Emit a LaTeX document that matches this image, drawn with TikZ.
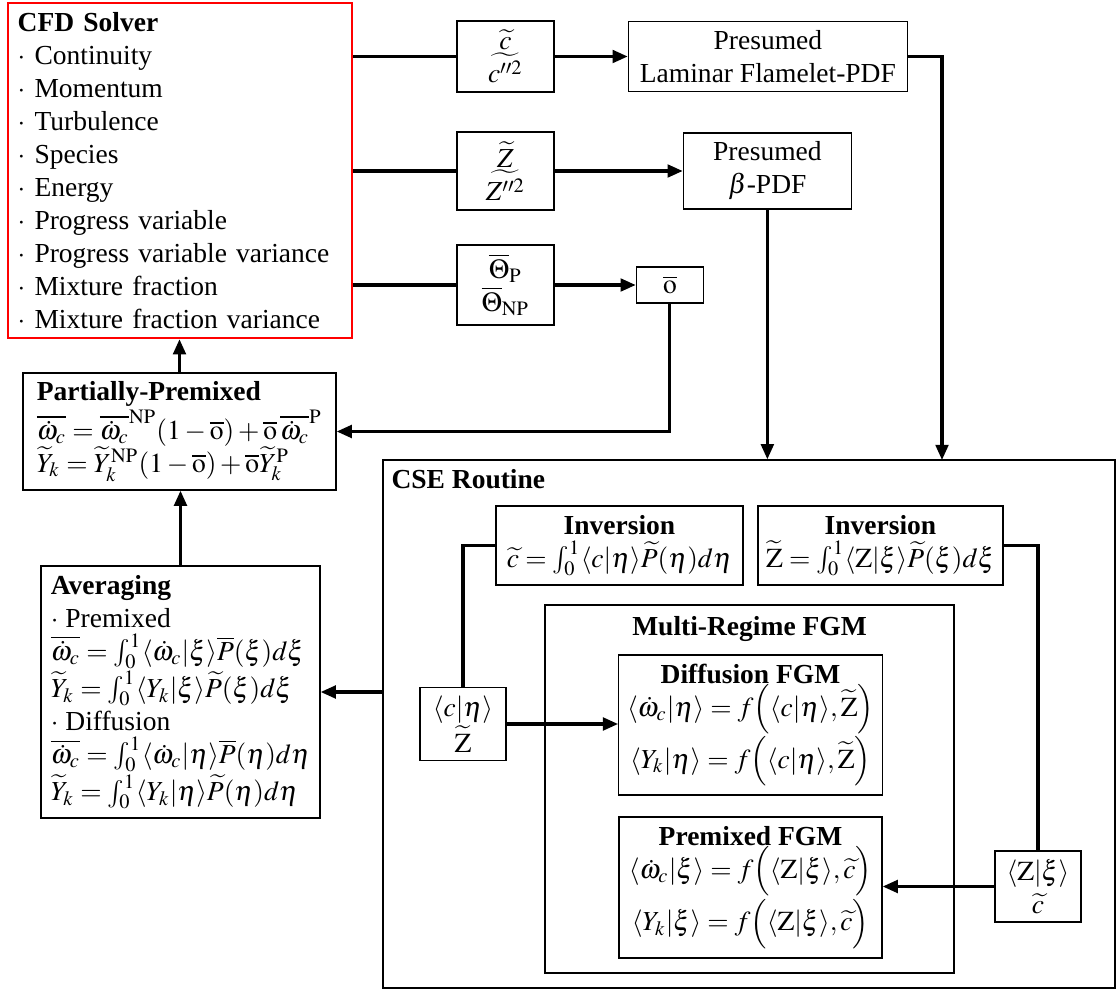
\documentclass[tikz,border=0pt]{standalone}
\usepackage{mathptmx}
\usepackage{fontspec}
\setmainfont{Liberation Serif}
\usetikzlibrary{positioning,arrows.meta}

\newcommand{\pxl}[1]{#1*0.3636pt}

\begin{document}
\begin{tikzpicture}[x=0.3636pt, y=-0.3636pt,
    box/.style={rectangle, draw, line width=0.5pt, inner sep=3pt, align=center},
    solver/.style={rectangle, draw=red, line width=0.9pt, inner xsep=3.5pt, align=left},
    leftbox/.style={box, align=left, inner xsep=3.5pt},
    title/.style={font=\bfseries, inner sep=0pt},
    wire/.style={line width=1.1pt},
    arrow/.style={wire, -{Triangle[length=5.5pt, width=4.6pt]}},
]
\useasboundingbox (0,0) rectangle (1118,990);

% ---- CFD solver and its three outputs ----
\node[solver, minimum height=\pxl{335}, text width=118pt] (cfd) at (180,170.5) {\textbf{CFD Solver}\\
  $\cdot$\ Continuity\\ $\cdot$\ Momentum\\ $\cdot$\ Turbulence\\ $\cdot$\ Species\\ $\cdot$\ Energy\\
  $\cdot$\ Progress variable\\ $\cdot$\ Progress variable variance\\ $\cdot$\ Mixture fraction\\
  $\cdot$\ Mixture fraction variance};

\node[box, minimum width=\pxl{97}, minimum height=\pxl{71}] (cvar) at (505.5,56.5) {$\widetilde{c}$\\ $\widetilde{c^{\prime\prime 2}}$};
\node[box, minimum width=\pxl{279}, minimum height=\pxl{70}, right=\pxl{73} of cvar] (lfpdf) {Presumed\\ Laminar Flamelet-PDF};

\node[box, minimum width=\pxl{97}, minimum height=\pxl{78}] (zvar) at (505.5,171) {$\widetilde{Z}$\\ $\widetilde{Z^{\prime\prime 2}}$};
\node[box, minimum width=\pxl{168}, minimum height=\pxl{76}, right=\pxl{128} of zvar] (bpdf) {Presumed\\ $\beta$-PDF};

\node[box, minimum width=\pxl{97}, minimum height=\pxl{80}] (thvar) at (505.5,285) {$\overline{\Theta}_{\mathrm{P}}$\\ $\overline{\Theta}_{\mathrm{NP}}$};
\node[box, minimum width=\pxl{67}, minimum height=\pxl{36}, right=\pxl{81} of thvar] (obar) {$\overline{\mathrm{o}}$};

% ---- weighting and averaging ----
\node[leftbox, minimum width=\pxl{313}, minimum height=\pxl{117}] (pp) at (179.5,431.5) {\textbf{Partially-Premixed}\\
  $\overline{\dot{\omega}_c} = \overline{\dot{\omega}_c}^{\mathrm{NP}}(1-\overline{\mathrm{o}}) + \overline{\mathrm{o}}\,\overline{\dot{\omega}_c}^{\mathrm{P}}$\\
  $\widetilde{Y}_k = \widetilde{Y}_k^{\mathrm{NP}}(1-\overline{\mathrm{o}}) + \overline{\mathrm{o}}\widetilde{Y}_k^{\mathrm{P}}$};

\node[leftbox, minimum width=\pxl{279}, minimum height=\pxl{252}] (avg) at (180.5,692) {\textbf{Averaging}\\
  $\cdot$\ Premixed\\
  $\overline{\dot{\omega}_c} = \int_0^1 \langle\dot{\omega}_c|\xi\rangle\overline{P}(\xi)d\xi$\\
  $\widetilde{Y}_k = \int_0^1 \langle Y_k|\xi\rangle\widetilde{P}(\xi)d\xi$\\
  $\cdot$\ Diffusion\\
  $\overline{\dot{\omega}_c} = \int_0^1 \langle\dot{\omega}_c|\eta\rangle\overline{P}(\eta)d\eta$\\
  $\widetilde{Y}_k = \int_0^1 \langle Y_k|\eta\rangle\widetilde{P}(\eta)d\eta$};

% ---- CSE routine ----
\node[box, minimum width=\pxl{732}, minimum height=\pxl{528}] (cse) at (749,724) {};
\node[title, anchor=base west] (csetitle) at (391,488) {CSE Routine};

\node[box, minimum width=\pxl{247}, minimum height=\pxl{79}] (invc) at (619.5,545.5) {\textbf{Inversion}\\
  $\widetilde{c} = \int_0^1 \langle c|\eta\rangle\widetilde{P}(\eta)d\eta$};
\node[box, minimum width=\pxl{245}, minimum height=\pxl{79}] (invz) at (880.5,545.5) {\textbf{Inversion}\\
  $\widetilde{\mathrm{Z}} = \int_0^1 \langle \mathrm{Z}|\xi\rangle\widetilde{P}(\xi)d\xi$};

\node[box, minimum width=\pxl{409}, minimum height=\pxl{368}] (mrfgm) at (749.5,789) {};
\node[title, anchor=base] (mrtitle) at (749.5,635) {Multi-Regime FGM};

\node[box, minimum width=\pxl{263}, minimum height=\pxl{140}] (dfgm) at (750.5,725) {\textbf{Diffusion FGM}\\
  $\langle\dot{\omega}_c|\eta\rangle = f\Big(\langle c|\eta\rangle,\widetilde{\mathrm{Z}}\Big)$\\
  $\langle Y_k|\eta\rangle = f\Big(\langle c|\eta\rangle,\widetilde{\mathrm{Z}}\Big)$};
\node[box, minimum width=\pxl{263}, minimum height=\pxl{141}] (pfgm) at (750.5,887.5) {\textbf{Premixed FGM}\\
  $\langle\dot{\omega}_c|\xi\rangle = f\Big(\langle \mathrm{Z}|\xi\rangle,\widetilde{c}\Big)$\\
  $\langle Y_k|\xi\rangle = f\Big(\langle \mathrm{Z}|\xi\rangle,\widetilde{c}\Big)$};

\node[box, minimum width=\pxl{86}, minimum height=\pxl{72}] (ceta) at (463,724) {$\langle c|\eta\rangle$\\ $\widetilde{\mathrm{Z}}$};
\node[box, minimum width=\pxl{86}, minimum height=\pxl{71}] (zxi) at (1038,886.5) {$\langle \mathrm{Z}|\xi\rangle$\\ $\widetilde{c}$};

% ---- connectors ----
\coordinate (lfin) at (942,460);
\draw[wire] (cfd.east |- cvar.west) -- (cvar.west);
\draw[arrow] (cvar.east) -- (lfpdf.west);
\draw[arrow] (lfpdf.east) -| (lfin);
\draw[wire] (cfd.east |- zvar.west) -- (zvar.west);
\draw[arrow] (zvar.east) -- (bpdf.west);
\draw[arrow] (bpdf.south) -- (bpdf.south |- cse.north);
\draw[wire] (cfd.east |- thvar.west) -- (thvar.west);
\draw[arrow] (thvar.east) -- (thvar.east -| obar.west);
\draw[arrow] (obar.south) |- (pp.east);
\draw[arrow] (pp.north) -- (pp.north |- cfd.south);
\draw[arrow] (avg.north) -- (avg.north |- pp.south);
\draw[arrow] (cse.west |- avg.east) -- (avg.east);
\draw[wire] (ceta.north) |- (invc.west);
\draw[arrow] (ceta.east) -- (ceta.east -| dfgm.west);
\draw[wire] (invz.east) -| (zxi.north);
\draw[arrow] (zxi.west) -- (zxi.west -| pfgm.east);

\end{tikzpicture}
\end{document}
